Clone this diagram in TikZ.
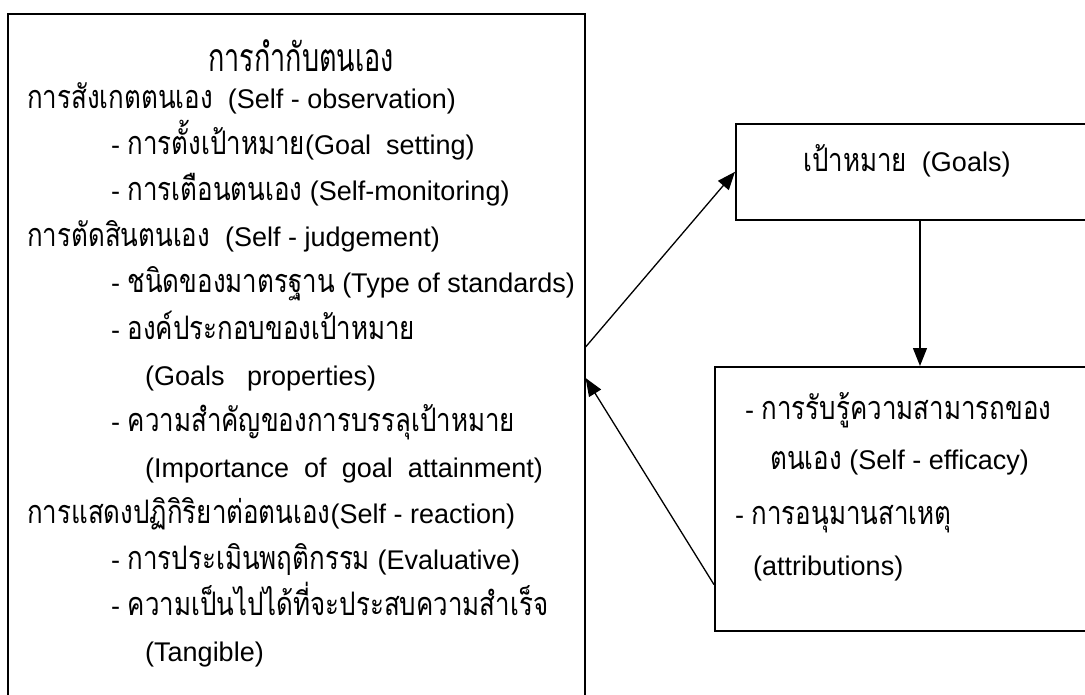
\documentclass[tikz,border=0pt]{standalone}
\usepackage{fontspec}
\setmainfont{Liberation Sans}
\newfontfamily\thaifont[Script=Thai,Scale=1.2,FakeStretch=0.8]{Loma}
\newfontfamily\thaititle[Script=Thai,Scale=1.45,FakeStretch=0.69]{Loma}
\usetikzlibrary{arrows.meta}
\newcommand{\T}[1]{{\thaifont #1}}
\begin{document}
\begin{tikzpicture}[x=1pt,y=-1pt,
  boxline/.style={draw=black, line width=1.6pt, inner sep=0pt, anchor=north west},
  conn/.style={draw=black, line width=1.3pt, -{Triangle[length=18pt,width=14pt]}},
  txt/.style={anchor=base west, inner sep=0pt, font=\fontsize{27}{30}\selectfont},
  ttl/.style={anchor=base, inner sep=0pt, font=\fontsize{27}{30}\selectfont\thaititle},
]
\useasboundingbox (0,0) rectangle (1085,695);
\clip (0,0) rectangle (1085,695);

% boxes
\node[boxline, minimum width=577pt, minimum height=760pt] (leftbox) at (7,13) {};
\node[boxline, minimum width=420pt, minimum height=96pt] (goals) at (735,123) {};
\node[boxline, minimum width=440pt, minimum height=264pt] (eff) at (714,366) {};

% left box text
\node[ttl] (title) at (301,72) {การกำกับตนเอง};
\node[txt] (l0) at (27,109) {\T{การสังเกตตนเอง}~ (Self - observation)};
\node[txt] (l1) at (111,155) {- \T{การตั้งเป้าหมาย}(Goal~ setting)};
\node[txt] (l2) at (111,201) {- \T{การเตือนตนเอง} (Self-monitoring)};
\node[txt] (l3) at (27,247) {\T{การตัดสินตนเอง}~ (Self - judgement)};
\node[txt] (l4) at (111,293) {- \T{ชนิดของมาตรฐาน} (Type of standards)};
\node[txt] (l5) at (111,339) {- \T{องค์ประกอบของเป้าหมาย}};
\node[txt] (l6) at (145,385) {(Goals~~ properties)};
\node[txt] (l7) at (111,431) {- \T{ความสำคัญของการบรรลุเป้าหมาย}};
\node[txt] (l8) at (145,477) {(Importance~ of~ goal~ attainment)};
\node[txt] (l9) at (27,523) {\T{การแสดงปฏิกิริยาต่อตนเอง}(Self - reaction)};
\node[txt] (l10) at (111,569) {- \T{การประเมินพฤติกรรม} (Evaluative)};
\node[txt] (l11) at (111,615) {- \T{ความเป็นไปได้ที่จะประสบความสำเร็จ}};
\node[txt] (l12) at (145,661) {(Tangible)};

% right texts
\node[txt] (gt) at (803,172) {\T{เป้าหมาย}~ (Goals)};
\node[txt] (e1) at (745,419) {- \T{การรับรู้ความสามารถของ}};
\node[txt] (e2) at (770,469) {\T{ตนเอง} (Self - efficacy)};
\node[txt] (e3) at (735,524) {- \T{การอนุมานสาเหตุ}};
\node[txt] (e4) at (753,575) {(attributions)};

% connectors
\path (leftbox.north east) ++(0,334) coordinate (lOut);
\path (leftbox.north east) ++(0,365) coordinate (lIn);
\path (goals.south west) ++(185,0) coordinate (gDown);
\path (eff.south west) ++(0,-47) coordinate (bOut);
\draw[conn] (lOut) -- (goals.west);
\draw[conn] (gDown) -- (gDown |- eff.north);
\draw[conn] (bOut) -- (lIn);
\end{tikzpicture}
\end{document}
